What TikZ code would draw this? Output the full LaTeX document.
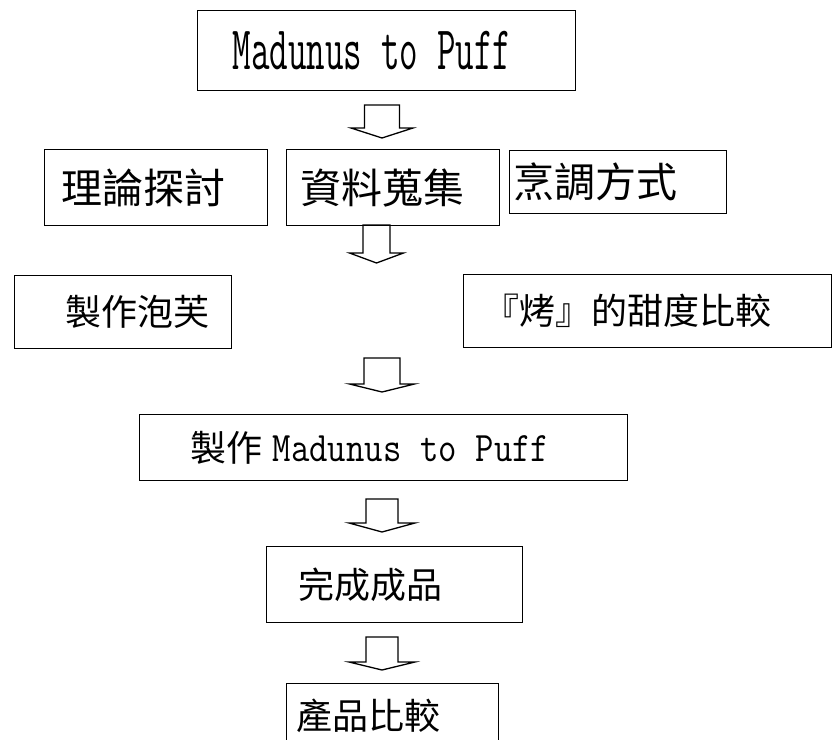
\documentclass[tikz,border=0pt]{standalone}
\usepackage{fontspec}
\usepackage{graphicx}
\newfontfamily\cjk{Noto Sans CJK TC}
\newcommand\cjkbig{\cjk\fontsize{41bp}{44bp}\selectfont}
\newcommand\cjkmid{\cjk\fontsize{36bp}{40bp}\selectfont}
\newcommand\mspc{\hspace{0.525em}}
\newcommand\latbig[1]{\scalebox{0.58}[1]{\ttfamily\fontsize{62bp}{64bp}\selectfont #1}}
\newcommand\latmid[1]{\scalebox{0.85}[1]{\ttfamily\fontsize{42bp}{44bp}\selectfont #1}}
\newcommand\dnarrow[6]{%
  \draw[arr] (#1-#3,#2) -- (#1-#3,#2+#5) -- (#1-#4,#2+#5) -- (#1,#2+#6)
    -- (#1+#4,#2+#5) -- (#1+#3,#2+#5) -- (#1+#3,#2) -- cycle;}
\begin{document}
\begin{tikzpicture}[x=1bp,y=-1bp,
  box/.style={draw, line width=1.4bp, anchor=north west, inner xsep=0pt, inner ysep=0pt, align=left},
  arr/.style={draw, line width=1.3bp, line join=miter}]
\useasboundingbox (0,0) rectangle (833,740);
% boxes
\node[box, minimum width=378bp, minimum height=80bp, text width=378bp] (b1) at (197,10)
  {\hspace*{35bp}\latbig{Madunus\mspc to\mspc Puff}};
\node[box, minimum width=223bp, minimum height=76bp, text width=223bp] (b2) at (44,149)
  {\hspace*{17bp}\cjkbig 理論探討};
\node[box, minimum width=213bp, minimum height=76bp, text width=213bp] (b3) at (286,149)
  {\hspace*{14bp}\cjkbig 資料蒐集};
\node[box, minimum width=217bp, minimum height=63bp, text width=217bp] (b4) at (509,150)
  {\hspace*{4bp}\cjkbig 烹調方式};
\node[box, minimum width=217bp, minimum height=73bp, text width=217bp] (b5) at (14,275)
  {\hspace*{51bp}\cjkmid 製作泡芙};
\node[box, minimum width=368bp, minimum height=73bp, text width=368bp] (b6) at (463,274)
  {\hspace*{20bp}\cjkmid 『烤』的甜度比較};
\node[box, minimum width=488bp, minimum height=66bp, text width=488bp] (b7) at (139,414)
  {\hspace*{51bp}{\cjkmid 製作}\hspace{10bp}\latmid{Madunus\mspc to\mspc Puff}};
\node[box, minimum width=256bp, minimum height=76bp, text width=256bp] (b8) at (266,546)
  {\hspace*{32bp}\cjkmid 完成成品};
\node[box, minimum width=212bp, minimum height=64bp, text width=212bp] (b9) at (286,683)
  {\hspace*{10bp}\cjkmid 產品比較};
% block arrows
\dnarrow{382}{105}{17.5}{31}{23}{33}
\dnarrow{376.5}{225}{13.5}{27}{28}{38}
\dnarrow{382}{358}{18}{32.5}{26}{34}
\dnarrow{382}{499}{16}{33}{24}{33}
\dnarrow{382}{637}{16}{33}{25}{33}
\end{tikzpicture}
\end{document}
